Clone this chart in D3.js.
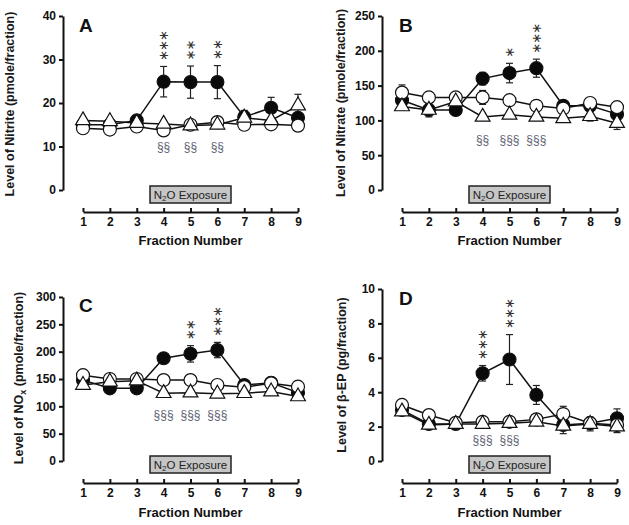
<!DOCTYPE html>
<html><head><meta charset="utf-8">
<script src="https://cdn.jsdelivr.net/npm/d3@7"></script>
<style>body{margin:0;background:#fff} svg{display:block}</style>
</head><body><svg id="c" width="629" height="525"></svg>
<script>
// ---------- DATA ----------
const fractions = [1,2,3,4,5,6,7,8,9];

// Panel A: Nitrite (pmole/fraction)
const nitriteFilled   = [15.0, 15.0, 16.0, 24.9, 24.8, 24.8, 16.8, 18.9, 16.6];
const nitriteFilledSE = [0.5, 0.5, 0.5, 3.5, 3.7, 3.8, 1.5, 2.4, 0.8];
const nitriteOpen     = [14.2, 13.9, 14.6, 13.7, 15.0, 15.6, 15.0, 15.1, 14.8];
const nitriteOpenSE   = [0.5, 0.5, 0.5, 0.5, 0.5, 0.5, 0.5, 0.5, 0.5];
const nitriteTri      = [16.0, 15.8, 15.4, 15.2, 14.8, 15.0, 16.6, 16.0, 19.4];
const nitriteTriSE    = [0.5, 0.5, 0.5, 0.5, 0.5, 0.5, 0.5, 0.5, 2.6];
const nitriteStars    = [0, 0, 0, 3, 2, 2, 0, 0, 0];
const nitriteSect     = ["", "", "", "§§", "§§", "§§", "", "", ""];
const nitriteTicks    = [0, 10, 20, 30, 40];

// Panel B: Nitrate
const nitrateFilled   = [129, 115, 115, 160, 168, 175, 121, 121, 109];
const nitrateFilledSE = [8, 10, 8, 9, 14, 13, 5, 6, 8];
const nitrateOpen     = [140, 133, 133, 133, 129, 121, 117, 125, 119];
const nitrateOpenSE   = [11, 5, 5, 10, 6, 5, 5, 6, 7];
const nitrateTri      = [120, 115, 127, 105, 108, 105, 103, 106, 96];
const nitrateTriSE    = [5, 5, 5, 5, 5, 5, 5, 7, 9];
const nitrateStars    = [0, 0, 0, 0, 1, 3, 0, 0, 0];
const nitrateSect     = ["", "", "", "§§", "§§§", "§§§", "", "", ""];
const nitrateTicks    = [0, 50, 100, 150, 200, 250];

// Panel C: NOx
const noxFilled   = [148, 133, 133, 188, 196, 203, 139, 143, 125];
const noxFilledSE = [8, 6, 6, 6, 15, 14, 6, 10, 6];
const noxOpen     = [157, 150, 150, 148, 148, 139, 135, 142, 136];
const noxOpenSE   = [10, 5, 5, 5, 5, 5, 5, 6, 5];
const noxTri      = [139, 145, 147, 124, 125, 123, 124, 127, 118];
const noxTriSE    = [5, 5, 5, 5, 5, 5, 5, 5, 5];
const noxStars    = [0, 0, 0, 0, 2, 3, 0, 0, 0];
const noxSect     = ["", "", "", "§§§", "§§§", "§§§", "", "", ""];
const noxTicks    = [0, 50, 100, 150, 200, 250, 300];

// Panel D: beta-EP (pg/fraction)
const bepFilled   = [2.97, 2.15, 2.15, 5.1, 5.9, 3.84, 2.1, 2.2, 2.48];
const bepFilledSE = [0.2, 0.2, 0.1, 0.45, 1.45, 0.55, 0.15, 0.2, 0.55];
const bepOpen     = [3.26, 2.67, 2.22, 2.28, 2.28, 2.42, 2.73, 2.2, 2.1];
const bepOpenSE   = [0.15, 0.15, 0.1, 0.1, 0.1, 0.1, 0.45, 0.15, 0.15];
const bepTri      = [2.87, 2.1, 2.15, 2.15, 2.2, 2.28, 2.04, 2.15, 2.0];
const bepTriSE    = [0.15, 0.2, 0.1, 0.1, 0.1, 0.1, 0.45, 0.4, 0.35];
const bepStars    = [0, 0, 0, 3, 3, 0, 0, 0, 0];
const bepSect     = ["", "", "", "§§§", "§§§", "", "", "", ""];
const bepTicks    = [0, 2, 4, 6, 8, 10];

const exposureLabel = "Exposure";
const xTitle = "Fraction Number";

// ---------- LAYOUT ----------
const panels = [
  {letter:"A", label:["Level of Nitrite (pmole/fraction)"], ticks:nitriteTicks,
   filled:nitriteFilled, filledSE:nitriteFilledSE, open:nitriteOpen, openSE:nitriteOpenSE,
   tri:nitriteTri, triSE:nitriteTriSE, stars:nitriteStars, sect:nitriteSect, sectV:10,
   yAxisX:63, yTop:16, yBottom:190, xAxisY:212, x1:83, x9:298, boxY:186,
   letterPos:[79,32], labelPos:[10,104], xTitleY:240},
  {letter:"B", label:["Level of Nitrate (pmole/fraction)"], ticks:nitrateTicks,
   filled:nitrateFilled, filledSE:nitrateFilledSE, open:nitrateOpen, openSE:nitrateOpenSE,
   tri:nitrateTri, triSE:nitrateTriSE, stars:nitrateStars, sect:nitrateSect, sectV:72,
   yAxisX:382, yTop:16, yBottom:190, xAxisY:212, x1:402, x9:617, boxY:186,
   letterPos:[399,32], labelPos:[341,103], xTitleY:240},
  {letter:"C", label:["Level of NO", "x", " (pmole/fraction)"], ticks:noxTicks,
   filled:noxFilled, filledSE:noxFilledSE, open:noxOpen, openSE:noxOpenSE,
   tri:noxTri, triSE:noxTriSE, stars:noxStars, sect:noxSect, sectV:84,
   yAxisX:63, yTop:297, yBottom:461, xAxisY:483, x1:83, x9:298, boxY:456,
   letterPos:[79,312], labelPos:[19,378], xTitleY:512},
  {letter:"D", label:["Level of β-EP (pg/fraction)"], ticks:bepTicks,
   filled:bepFilled, filledSE:bepFilledSE, open:bepOpen, openSE:bepOpenSE,
   tri:bepTri, triSE:bepTriSE, stars:bepStars, sect:bepSect, sectV:1.22,
   yAxisX:382, yTop:289, yBottom:461, xAxisY:483, x1:402, x9:617, boxY:456,
   letterPos:[399,305], labelPos:[342,375], xTitleY:512}
];

const FONT = "'Liberation Sans', Arial, sans-serif";
const svg = d3.select("#c");

function drawPanel(p) {
  const g = svg.append("g");
  const x = d3.scaleLinear().domain([1, 9]).range([p.x1, p.x9]);
  const y = d3.scaleLinear().domain([0, d3.max(p.ticks)]).range([p.yBottom, p.yTop]);

  // Y axis
  const ya = g.append("g").attr("transform", `translate(${p.yAxisX},0)`)
    .call(d3.axisLeft(y).tickValues(p.ticks).tickSizeInner(4).tickSizeOuter(0).tickPadding(3));
  ya.attr("font-family", FONT).attr("font-size", 12).attr("font-weight", "bold");
  ya.select(".domain").attr("stroke", "#111").attr("stroke-width", 2);
  ya.selectAll(".tick line").attr("stroke", "#111").attr("stroke-width", 2);
  ya.selectAll(".tick text").attr("fill", "#111");

  // X axis
  const xa = g.append("g").attr("transform", `translate(0,${p.xAxisY})`)
    .call(d3.axisBottom(x).tickValues(fractions).tickSizeInner(-4).tickSizeOuter(0).tickPadding(5).tickFormat(d3.format("d")));
  xa.attr("font-family", FONT).attr("font-size", 12).attr("font-weight", "bold");
  xa.select(".domain").attr("stroke", "#111").attr("stroke-width", 2);
  xa.selectAll(".tick line").attr("stroke", "#111").attr("stroke-width", 2);
  xa.selectAll(".tick text").attr("fill", "#111");

  // X title
  g.append("text").attr("x", (p.x1 + p.x9) / 2).attr("y", p.xTitleY).attr("dy", "0.35em")
    .attr("text-anchor", "middle").attr("font-family", FONT).attr("font-weight", "bold")
    .attr("font-size", 13).attr("fill", "#111").text(xTitle);

  // Y title
  const yt = g.append("text").attr("transform", `translate(${p.labelPos[0]},${p.labelPos[1]}) rotate(-90)`)
    .attr("dy", "0.35em").attr("text-anchor", "middle").attr("font-family", FONT)
    .attr("font-weight", "bold").attr("font-size", 12.5).attr("fill", "#1a1a1a");
  if (p.label.length === 3) {
    yt.append("tspan").text(p.label[0]);
    yt.append("tspan").attr("font-size", 9).attr("dy", 3).text(p.label[1]);
    yt.append("tspan").attr("dy", -3).text(p.label[2]);
  } else {
    yt.text(p.label[0]);
  }

  // Panel letter
  g.append("text").attr("x", p.letterPos[0]).attr("y", p.letterPos[1])
    .attr("font-family", FONT).attr("font-weight", "bold").attr("font-size", 19)
    .attr("fill", "#111").text(p.letter);

  // N2O exposure box centred on fraction 5
  const bx = x(5);
  g.append("rect").attr("x", bx - 40.5).attr("y", p.boxY).attr("width", 81).attr("height", 17)
    .attr("fill", "#c6c6c6").attr("stroke", "#222").attr("stroke-width", 1.5);
  const bt = g.append("text").attr("x", bx).attr("y", p.boxY + 8.5).attr("dy", "0.35em")
    .attr("text-anchor", "middle").attr("font-family", FONT).attr("font-size", 11.5).attr("fill", "#222");
  bt.append("tspan").text("N");
  bt.append("tspan").attr("font-size", 8).attr("dy", 2.5).text("2");
  bt.append("tspan").attr("dy", -2.5).text("O " + exposureLabel);

  const series = [
    {v: p.filled, se: p.filledSE, type: "filled"},
    {v: p.open, se: p.openSE, type: "open"},
    {v: p.tri, se: p.triSE, type: "tri"}
  ];
  const line = d3.line().x((d, i) => x(fractions[i])).y(d => y(d));

  // lines and error bars
  series.forEach(s => {
    g.append("path").attr("d", line(s.v)).attr("fill", "none").attr("stroke", "#111").attr("stroke-width", 1.5);
    const eb = g.append("g").attr("stroke", "#222").attr("stroke-width", 1.2);
    s.v.forEach((v, i) => {
      const cx = x(fractions[i]);
      const t = y(v + s.se[i]), b = y(v - s.se[i]);
      eb.append("line").attr("x1", cx).attr("x2", cx).attr("y1", t).attr("y2", b);
      eb.append("line").attr("x1", cx - 3.5).attr("x2", cx + 3.5).attr("y1", t).attr("y2", t);
      eb.append("line").attr("x1", cx - 3.5).attr("x2", cx + 3.5).attr("y1", b).attr("y2", b);
    });
  });

  // markers
  series.forEach(s => {
    const mg = g.append("g");
    s.v.forEach((v, i) => {
      const cx = x(fractions[i]), cy = y(v);
      if (s.type === "tri") {
        mg.append("path").attr("transform", `translate(${cx},${cy})`)
          .attr("d", d3.symbol(d3.symbolTriangle, 95)())
          .attr("fill", "#fff").attr("stroke", "#111").attr("stroke-width", 1.2);
      } else {
        mg.append("circle").attr("cx", cx).attr("cy", cy).attr("r", 6.5)
          .attr("fill", s.type === "filled" ? "#0a0a0a" : "#fff")
          .attr("stroke", "#111").attr("stroke-width", 1.2);
      }
    });
  });

  // significance stars above filled error bars: one rotated text per stack (stacked vertically)
  p.stars.forEach((n, i) => {
    if (!n) return;
    const top = y(p.filled[i] + p.filledSE[i]);
    const cx = x(fractions[i]);
    const cy = top - 10.5 - 10 * (n - 1) / 2;
    g.append("text")
      .attr("x", cx).attr("y", cy)
      .attr("transform", `rotate(-90,${cx},${cy})`)
      .attr("text-anchor", "middle").attr("dominant-baseline", "central")
      .attr("font-family", "DejaVu Sans").attr("font-size", 13)
      .attr("letter-spacing", "-0.9px")
      .attr("fill", "#333").text("∗".repeat(n));
  });

  // section signs
  p.sect.forEach((s, i) => {
    if (!s) return;
    g.append("text").attr("x", x(fractions[i])).attr("y", y(p.sectV)).attr("dy", "0.35em")
      .attr("text-anchor", "middle").attr("font-family", FONT).attr("font-size", 12)
      .attr("fill", "#5e6272").text(s);
  });
}

panels.forEach(drawPanel);
</script>
</body></html>
